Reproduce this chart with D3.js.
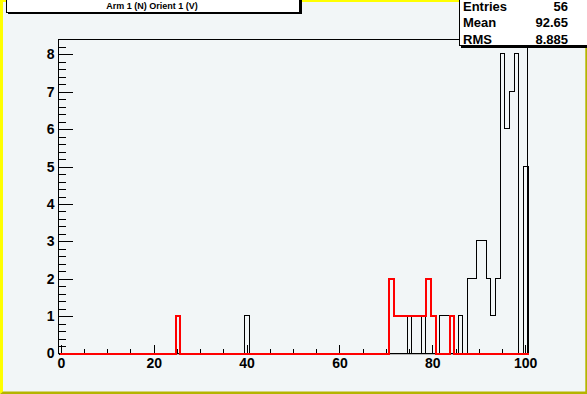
<!DOCTYPE html>
<html lang="en">
<head>
    <meta charset="UTF-8">
    <title>Arm 1 (N) Orient 1 (V)</title>
    <style>
        body, html {
            margin: 0;
            padding: 0;
            width: 100%;
            height: 100%;
            overflow: hidden;
            background-color: #f2f6f7;
        }
        svg text {
            font-family: 'Liberation Sans', Arial, sans-serif;
            font-weight: bold;
        }
    </style>
</head>
<body>

<div id="chart"></div>

<script src="https://d3js.org/d3.v7.min.js"></script>
<script>
    // bins are centred on the integers 0..100
    const nBins = 101;

    // black histogram: bin centre -> entries
    const blackBins   = [40, 75, 78, 82, 83, 84, 86, 88, 89, 90, 91, 92, 93, 94, 95, 96, 97, 98, 100];
    const blackCounts = [ 1,  1,  1,  1,  1,  1,  1,  2,  2,  3,  3,  2,  1,  2,  8,  6,  7,  8,   5];

    // red histogram
    const redBins   = [25, 71, 72, 73, 74, 75, 76, 77, 78, 79, 80, 84];
    const redCounts = [ 1,  2,  1,  1,  1,  1,  1,  1,  1,  2,  1,  1];

    const xTicks = [0, 20, 40, 60, 80, 100];
    const yTicks = [0, 1, 2, 3, 4, 5, 6, 7, 8];

    const titleText = "Arm 1 (N) Orient 1 (V)";
    const statLabels = ["Entries", "Mean", "RMS"];
    const statValues = ["56", "92.65", "8.885"];

    const width = 587, height = 394;
    const frame = {left: 58.5, right: 527.5, top: 39.5, bottom: 353.5};

    const svg = d3.select("#chart")
        .append("svg")
        .attr("width", width)
        .attr("height", height)
        .style("display", "block");

    // canvas with ROOT style bevel border
    svg.append("rect")
        .attr("width", width).attr("height", height)
        .attr("fill", "#f2f6f7");
    svg.append("path")
        .attr("d", `M0,0H${width}L${width - 2},2H3V${height - 2}L0,${height}Z`)
        .attr("fill", "#ffff00");
    svg.append("path")
        .attr("d", `M${width},0V${height}H0L3,${height - 2.5}H${width - 1.7}V2Z`)
        .attr("fill", "#b4b400");

    const x = d3.scaleLinear().domain([-0.5, nBins - 0.5]).range([frame.left, frame.right]);
    const y = d3.scaleLinear().domain([0, 8.4]).range([frame.bottom, frame.top]);

    function fullCounts(bins, counts) {
        const arr = new Array(nBins).fill(0);
        bins.forEach((b, i) => arr[b] = counts[i]);
        return arr;
    }

    const px = v => Math.round(x(v)) + 0.5;
    const py = v => Math.round(y(v)) - 0.5;

    function stepPoints(counts) {
        const pts = [[px(-0.5), py(0)]];
        counts.forEach((c, i) => {
            pts.push([px(i - 0.5), py(c)]);
            pts.push([px(i + 0.5), py(c)]);
        });
        pts.push([px(nBins - 0.5), py(0)]);
        return pts;
    }

    // frame
    svg.append("line")
        .attr("x1", frame.left).attr("x2", frame.right + 1)
        .attr("y1", frame.bottom + 1).attr("y2", frame.bottom + 1)
        .attr("stroke", "#b8b8b8");
    svg.append("rect")
        .attr("x", frame.left).attr("y", frame.top)
        .attr("width", frame.right - frame.left)
        .attr("height", frame.bottom - frame.top)
        .attr("fill", "none")
        .attr("stroke", "#000")
        .attr("shape-rendering", "crispEdges");

    // y axis, ticks pointing into the frame
    const yMinor = d3.range(0, 42).map(i => i * 0.2).filter(v => Math.abs(v - Math.round(v)) > 1e-6);
    svg.append("g")
        .attr("transform", `translate(${frame.left},0)`)
        .call(d3.axisLeft(y).tickValues(yMinor).tickSize(-7).tickFormat(""))
        .call(g => g.select(".domain").remove());
    svg.append("g")
        .attr("transform", `translate(${frame.left},0)`)
        .call(d3.axisLeft(y).tickValues(yTicks).tickSizeInner(-14).tickSizeOuter(0).tickPadding(4).tickFormat(d3.format("d")))
        .call(g => g.select(".domain").remove())
        .call(g => g.selectAll("text").attr("font-size", 14).attr("fill", "#000"));

    // x axis
    const xMinor = d3.range(0, 21).map(i => i * 5).filter(v => v % 20 !== 0);
    svg.append("g")
        .attr("transform", `translate(0,${frame.bottom})`)
        .call(d3.axisBottom(x).tickValues(xMinor).tickSize(-5).tickFormat(""))
        .call(g => g.select(".domain").remove());
    svg.append("g")
        .attr("transform", `translate(0,${frame.bottom})`)
        .call(d3.axisBottom(x).tickValues(xTicks).tickSizeInner(-9).tickSizeOuter(0).tickPadding(5).tickFormat(d3.format("d")))
        .call(g => g.select(".domain").remove())
        .call(g => g.selectAll("text").attr("font-size", 14).attr("fill", "#000"));

    svg.selectAll(".tick line").attr("stroke", "#000").attr("shape-rendering", "crispEdges");

    // histograms
    const line = d3.line();
    svg.append("path")
        .attr("d", line(stepPoints(fullCounts(blackBins, blackCounts))))
        .attr("fill", "none")
        .attr("stroke", "#000")
        .attr("stroke-width", 1)
        .attr("shape-rendering", "crispEdges");
    svg.append("path")
        .attr("d", line(stepPoints(fullCounts(redBins, redCounts))))
        .attr("fill", "none")
        .attr("stroke", "#ff0000")
        .attr("stroke-width", 2)
        .attr("shape-rendering", "crispEdges");

    // title box
    const title = svg.append("g");
    title.append("rect")
        .attr("x", 8).attr("y", -2).attr("width", 294).attr("height", 16)
        .attr("fill", "#000");
    title.append("rect")
        .attr("x", 6.5).attr("y", -2.5).attr("width", 293).attr("height", 15)
        .attr("fill", "#fff").attr("stroke", "#000")
        .attr("shape-rendering", "crispEdges");
    title.append("text")
        .attr("x", 152).attr("y", 9)
        .attr("text-anchor", "middle")
        .attr("font-size", 9)
        .text(titleText);

    // stats box
    const stats = svg.append("g");
    stats.append("rect")
        .attr("x", 461).attr("y", -2).attr("width", 140).attr("height", 50)
        .attr("fill", "#000");
    stats.append("rect")
        .attr("x", 459.5).attr("y", -2.5).attr("width", 140).attr("height", 48)
        .attr("fill", "#fff").attr("stroke", "#000")
        .attr("shape-rendering", "crispEdges");
    const statY = d3.scalePoint().domain(statLabels).range([10.5, 44]);
    stats.selectAll("text.label")
        .data(statLabels)
        .join("text")
        .attr("class", "label")
        .attr("x", 463).attr("y", d => statY(d))
        .attr("font-size", 13)
        .text(d => d);
    stats.selectAll("text.value")
        .data(statValues)
        .join("text")
        .attr("class", "value")
        .attr("x", 568).attr("y", (d, i) => statY(statLabels[i]))
        .attr("text-anchor", "end")
        .attr("font-size", 13)
        .text(d => d);
</script>

</body>
</html>
